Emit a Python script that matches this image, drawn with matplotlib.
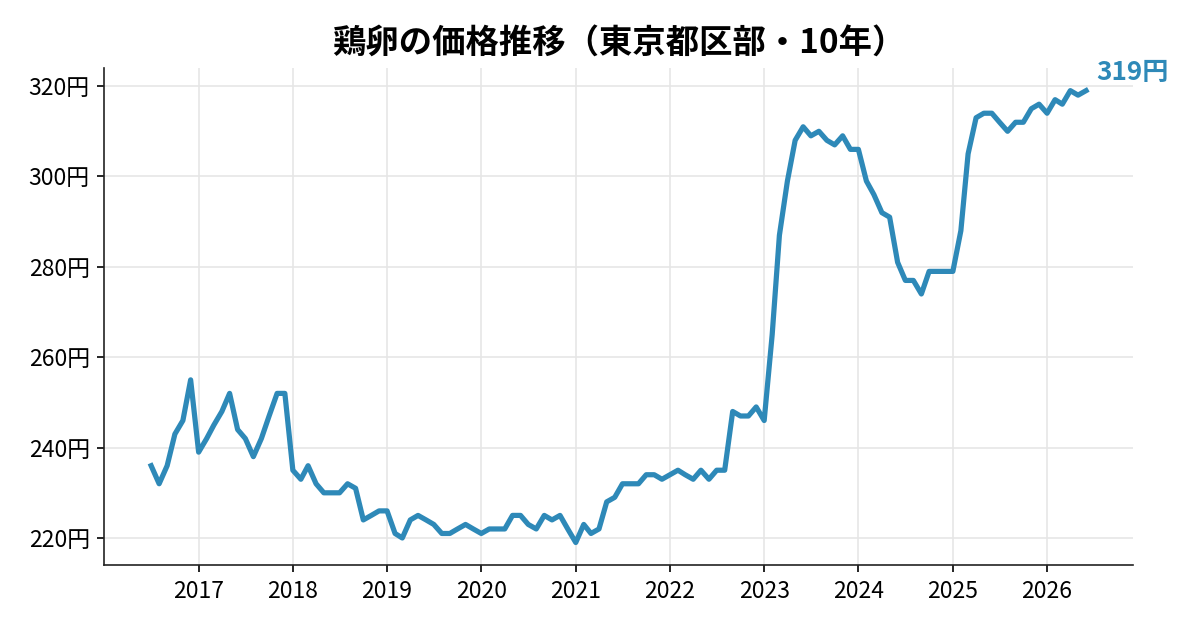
import matplotlib
matplotlib.use('Agg')
import matplotlib.pyplot as plt
import matplotlib.dates as mdates
import pandas as pd

plt.rcParams['font.family'] = ['Noto Sans CJK JP', 'DejaVu Sans']

# monthly egg price, Tokyo wards (yen), Jul 2016 .. Jun 2026
start = '2016-07-01'
prices = [
    236, 232, 236, 243, 246, 255,
    239, 242, 245, 248, 252, 244, 242, 238, 242, 247, 252, 252,
    235, 233, 236, 232, 230, 230, 230, 232, 231, 224, 225, 226,
    226, 221, 220, 224, 225, 224, 223, 221, 221, 222, 223, 222,
    221, 222, 222, 222, 225, 225, 223, 222, 225, 224, 225, 222,
    219, 223, 221, 222, 228, 229, 232, 232, 232, 234, 234, 233,
    234, 235, 234, 233, 235, 233, 235, 235, 248, 247, 247, 249,
    246, 265, 287, 299, 308, 311, 309, 310, 308, 307, 309, 306,
    306, 299, 296, 292, 291, 281, 277, 277, 274, 279, 279, 279,
    279, 288, 305, 313, 314, 314, 312, 310, 312, 312, 315, 316,
    314, 317, 316, 319, 318, 319,
]
months = pd.date_range(start, periods=len(prices), freq='MS')
title = '鶏卵の価格推移（東京都区部・10年）'
color = '#2e89b8'

fig, ax = plt.subplots(figsize=(8, 4.2), dpi=150)
ax.plot(months, prices, color=color, lw=2.5)

ax.annotate(f'{prices[-1]}円', xy=(months[-1], prices[-1]), xytext=(5, 2),
            textcoords='offset points', color=color, fontsize=12.5,
            fontweight='bold', ha='left', va='bottom')

ax.set_title(title, fontsize=16, fontweight='bold', pad=7)
ax.xaxis.set_major_locator(mdates.YearLocator())
ax.xaxis.set_major_formatter(mdates.DateFormatter('%Y'))
ax.yaxis.set_major_formatter(plt.FuncFormatter(lambda v, p: f'{v:.0f}円'))
ax.tick_params(labelsize=11)
ax.grid(True, color='#e6e6e6', lw=0.8)
ax.set_axisbelow(True)
for s in ['top', 'right']:
    ax.spines[s].set_visible(False)
for s in ['left', 'bottom']:
    ax.spines[s].set_color('#222222')

fig.subplots_adjust(left=0.087, right=0.944, top=0.892, bottom=0.103)
fig.savefig('out.png')
